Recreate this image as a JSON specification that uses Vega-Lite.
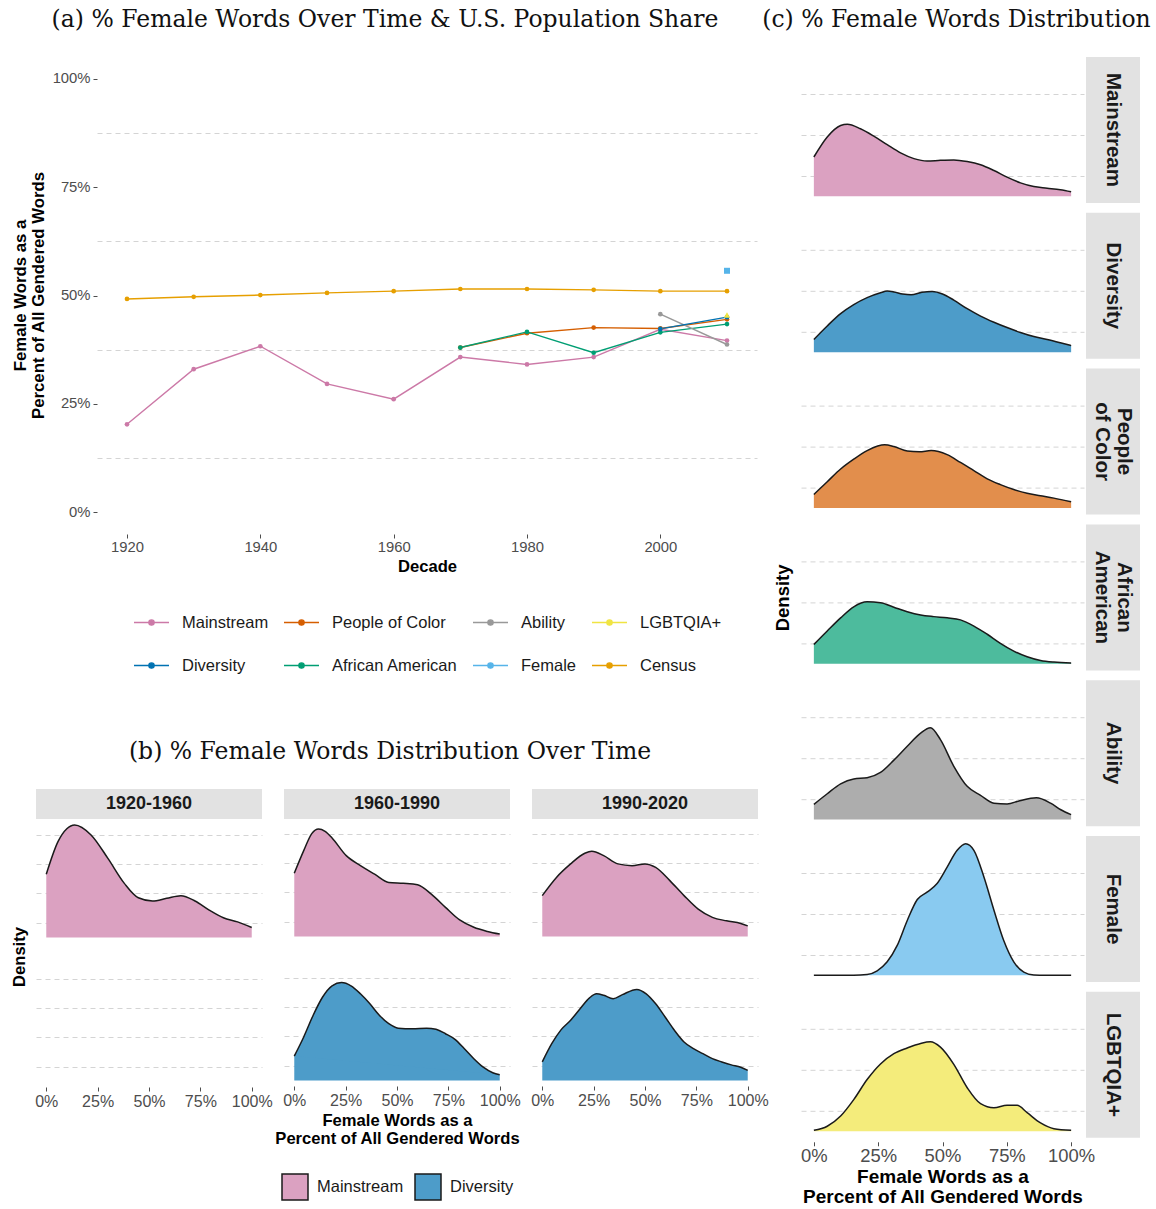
{
 "$schema": "https://vega.github.io/schema/vega-lite/v6.json",
 "background": "white",
 "padding": {"left": 12, "top": 7, "right": 2, "bottom": 2},
 "datasets": {
  "lines": [
   {"series":"Mainstream","decade":1920,"pct":0.203},{"series":"Mainstream","decade":1930,"pct":0.330},{"series":"Mainstream","decade":1940,"pct":0.383},{"series":"Mainstream","decade":1950,"pct":0.296},{"series":"Mainstream","decade":1960,"pct":0.261},{"series":"Mainstream","decade":1970,"pct":0.358},{"series":"Mainstream","decade":1980,"pct":0.341},{"series":"Mainstream","decade":1990,"pct":0.358},{"series":"Mainstream","decade":2000,"pct":0.422},{"series":"Mainstream","decade":2010,"pct":0.396},
   {"series":"People of Color","decade":1970,"pct":0.380},{"series":"People of Color","decade":1980,"pct":0.413},{"series":"People of Color","decade":1990,"pct":0.426},{"series":"People of Color","decade":2000,"pct":0.424},{"series":"People of Color","decade":2010,"pct":0.445},
   {"series":"African American","decade":1970,"pct":0.380},{"series":"African American","decade":1980,"pct":0.416},{"series":"African American","decade":1990,"pct":0.368},{"series":"African American","decade":2000,"pct":0.415},{"series":"African American","decade":2010,"pct":0.434},
   {"series":"Ability","decade":2000,"pct":0.457},{"series":"Ability","decade":2010,"pct":0.387},
   {"series":"Diversity","decade":2000,"pct":0.423},{"series":"Diversity","decade":2010,"pct":0.450},
   {"series":"LGBTQIA+","decade":2010,"pct":0.455},
   {"series":"Female","decade":2010,"pct":0.557},
   {"series":"Census","decade":1920,"pct":0.492},{"series":"Census","decade":1930,"pct":0.497},{"series":"Census","decade":1940,"pct":0.501},{"series":"Census","decade":1950,"pct":0.506},{"series":"Census","decade":1960,"pct":0.510},{"series":"Census","decade":1970,"pct":0.515},{"series":"Census","decade":1980,"pct":0.515},{"series":"Census","decade":1990,"pct":0.513},{"series":"Census","decade":2000,"pct":0.510},{"series":"Census","decade":2010,"pct":0.510}
  ],
  "bdens": [
   {"period":"1920-1960","group":"Mainstream","x":0,"density":2.15},{"period":"1920-1960","group":"Mainstream","x":0.057,"density":3.26},{"period":"1920-1960","group":"Mainstream","x":0.1,"density":3.7},{"period":"1920-1960","group":"Mainstream","x":0.138,"density":3.83},{"period":"1920-1960","group":"Mainstream","x":0.218,"density":3.49},{"period":"1920-1960","group":"Mainstream","x":0.30,"density":2.69},{"period":"1920-1960","group":"Mainstream","x":0.38,"density":1.84},{"period":"1920-1960","group":"Mainstream","x":0.448,"density":1.35},{"period":"1920-1960","group":"Mainstream","x":0.517,"density":1.24},{"period":"1920-1960","group":"Mainstream","x":0.586,"density":1.33},{"period":"1920-1960","group":"Mainstream","x":0.655,"density":1.42},{"period":"1920-1960","group":"Mainstream","x":0.724,"density":1.24},{"period":"1920-1960","group":"Mainstream","x":0.793,"density":0.93},{"period":"1920-1960","group":"Mainstream","x":0.862,"density":0.67},{"period":"1920-1960","group":"Mainstream","x":0.931,"density":0.53},{"period":"1920-1960","group":"Mainstream","x":1.0,"density":0.34},
   {"period":"1960-1990","group":"Mainstream","x":0,"density":2.15},{"period":"1960-1990","group":"Mainstream","x":0.046,"density":2.92},{"period":"1960-1990","group":"Mainstream","x":0.085,"density":3.5},{"period":"1960-1990","group":"Mainstream","x":0.118,"density":3.66},{"period":"1960-1990","group":"Mainstream","x":0.15,"density":3.58},{"period":"1960-1990","group":"Mainstream","x":0.184,"density":3.35},{"period":"1960-1990","group":"Mainstream","x":0.253,"density":2.75},{"period":"1960-1990","group":"Mainstream","x":0.322,"density":2.41},{"period":"1960-1990","group":"Mainstream","x":0.391,"density":2.12},{"period":"1960-1990","group":"Mainstream","x":0.46,"density":1.84},{"period":"1960-1990","group":"Mainstream","x":0.53,"density":1.81},{"period":"1960-1990","group":"Mainstream","x":0.6,"density":1.76},{"period":"1960-1990","group":"Mainstream","x":0.667,"density":1.44},{"period":"1960-1990","group":"Mainstream","x":0.736,"density":0.99},{"period":"1960-1990","group":"Mainstream","x":0.805,"density":0.56},{"period":"1960-1990","group":"Mainstream","x":0.874,"density":0.31},{"period":"1960-1990","group":"Mainstream","x":0.94,"density":0.17},{"period":"1960-1990","group":"Mainstream","x":1.0,"density":0.08},
   {"period":"1990-2020","group":"Mainstream","x":0,"density":1.39},{"period":"1990-2020","group":"Mainstream","x":0.069,"density":2.01},{"period":"1990-2020","group":"Mainstream","x":0.138,"density":2.47},{"period":"1990-2020","group":"Mainstream","x":0.207,"density":2.83},{"period":"1990-2020","group":"Mainstream","x":0.241,"density":2.90},{"period":"1990-2020","group":"Mainstream","x":0.299,"density":2.75},{"period":"1990-2020","group":"Mainstream","x":0.368,"density":2.47},{"period":"1990-2020","group":"Mainstream","x":0.437,"density":2.41},{"period":"1990-2020","group":"Mainstream","x":0.5,"density":2.47},{"period":"1990-2020","group":"Mainstream","x":0.552,"density":2.35},{"period":"1990-2020","group":"Mainstream","x":0.621,"density":1.90},{"period":"1990-2020","group":"Mainstream","x":0.69,"density":1.39},{"period":"1990-2020","group":"Mainstream","x":0.759,"density":0.93},{"period":"1990-2020","group":"Mainstream","x":0.828,"density":0.65},{"period":"1990-2020","group":"Mainstream","x":0.897,"density":0.53},{"period":"1990-2020","group":"Mainstream","x":0.966,"density":0.44},{"period":"1990-2020","group":"Mainstream","x":1.0,"density":0.36},
   {"period":"1960-1990","group":"Diversity","x":0,"density":0.83},{"period":"1960-1990","group":"Diversity","x":0.046,"density":1.48},{"period":"1960-1990","group":"Diversity","x":0.092,"density":2.22},{"period":"1960-1990","group":"Diversity","x":0.138,"density":2.84},{"period":"1960-1990","group":"Diversity","x":0.184,"density":3.22},{"period":"1960-1990","group":"Diversity","x":0.23,"density":3.33},{"period":"1960-1990","group":"Diversity","x":0.276,"density":3.22},{"period":"1960-1990","group":"Diversity","x":0.322,"density":2.95},{"period":"1960-1990","group":"Diversity","x":0.368,"density":2.61},{"period":"1960-1990","group":"Diversity","x":0.414,"density":2.22},{"period":"1960-1990","group":"Diversity","x":0.46,"density":1.93},{"period":"1960-1990","group":"Diversity","x":0.506,"density":1.78},{"period":"1960-1990","group":"Diversity","x":0.575,"density":1.76},{"period":"1960-1990","group":"Diversity","x":0.644,"density":1.78},{"period":"1960-1990","group":"Diversity","x":0.69,"density":1.74},{"period":"1960-1990","group":"Diversity","x":0.736,"density":1.59},{"period":"1960-1990","group":"Diversity","x":0.782,"density":1.40},{"period":"1960-1990","group":"Diversity","x":0.828,"density":1.08},{"period":"1960-1990","group":"Diversity","x":0.874,"density":0.74},{"period":"1960-1990","group":"Diversity","x":0.92,"density":0.45},{"period":"1960-1990","group":"Diversity","x":0.966,"density":0.26},{"period":"1960-1990","group":"Diversity","x":1.0,"density":0.19},
   {"period":"1990-2020","group":"Diversity","x":0,"density":0.63},{"period":"1990-2020","group":"Diversity","x":0.046,"density":1.25},{"period":"1990-2020","group":"Diversity","x":0.092,"density":1.73},{"period":"1990-2020","group":"Diversity","x":0.138,"density":2.05},{"period":"1990-2020","group":"Diversity","x":0.184,"density":2.44},{"period":"1990-2020","group":"Diversity","x":0.23,"density":2.81},{"period":"1990-2020","group":"Diversity","x":0.264,"density":2.95},{"period":"1990-2020","group":"Diversity","x":0.299,"density":2.90},{"period":"1990-2020","group":"Diversity","x":0.345,"density":2.78},{"period":"1990-2020","group":"Diversity","x":0.39,"density":2.92},{"period":"1990-2020","group":"Diversity","x":0.46,"density":3.10},{"period":"1990-2020","group":"Diversity","x":0.506,"density":2.95},{"period":"1990-2020","group":"Diversity","x":0.552,"density":2.61},{"period":"1990-2020","group":"Diversity","x":0.598,"density":2.16},{"period":"1990-2020","group":"Diversity","x":0.644,"density":1.70},{"period":"1990-2020","group":"Diversity","x":0.69,"density":1.31},{"period":"1990-2020","group":"Diversity","x":0.736,"density":1.08},{"period":"1990-2020","group":"Diversity","x":0.782,"density":0.91},{"period":"1990-2020","group":"Diversity","x":0.828,"density":0.74},{"period":"1990-2020","group":"Diversity","x":0.874,"density":0.63},{"period":"1990-2020","group":"Diversity","x":0.92,"density":0.53},{"period":"1990-2020","group":"Diversity","x":0.966,"density":0.45},{"period":"1990-2020","group":"Diversity","x":1.0,"density":0.34}
  ],
  "cdens": [
   {"group":"Mainstream","x":0,"density":0.96},{"group":"Mainstream","x":0.052,"density":1.45},{"group":"Mainstream","x":0.104,"density":1.73},{"group":"Mainstream","x":0.13,"density":1.76},{"group":"Mainstream","x":0.181,"density":1.65},{"group":"Mainstream","x":0.233,"density":1.47},{"group":"Mainstream","x":0.285,"density":1.26},{"group":"Mainstream","x":0.337,"density":1.06},{"group":"Mainstream","x":0.389,"density":0.92},{"group":"Mainstream","x":0.44,"density":0.86},{"group":"Mainstream","x":0.492,"density":0.88},{"group":"Mainstream","x":0.544,"density":0.89},{"group":"Mainstream","x":0.596,"density":0.85},{"group":"Mainstream","x":0.648,"density":0.77},{"group":"Mainstream","x":0.70,"density":0.63},{"group":"Mainstream","x":0.751,"density":0.47},{"group":"Mainstream","x":0.803,"density":0.33},{"group":"Mainstream","x":0.855,"density":0.24},{"group":"Mainstream","x":0.907,"density":0.20},{"group":"Mainstream","x":0.958,"density":0.16},{"group":"Mainstream","x":1.0,"density":0.11},
   {"group":"Diversity","x":0,"density":0.31},{"group":"Diversity","x":0.052,"density":0.64},{"group":"Diversity","x":0.104,"density":0.94},{"group":"Diversity","x":0.155,"density":1.16},{"group":"Diversity","x":0.207,"density":1.33},{"group":"Diversity","x":0.259,"density":1.45},{"group":"Diversity","x":0.285,"density":1.49},{"group":"Diversity","x":0.311,"density":1.47},{"group":"Diversity","x":0.345,"density":1.42},{"group":"Diversity","x":0.378,"density":1.40},{"group":"Diversity","x":0.42,"density":1.46},{"group":"Diversity","x":0.46,"density":1.48},{"group":"Diversity","x":0.50,"density":1.42},{"group":"Diversity","x":0.544,"density":1.27},{"group":"Diversity","x":0.596,"density":1.06},{"group":"Diversity","x":0.648,"density":0.88},{"group":"Diversity","x":0.70,"density":0.73},{"group":"Diversity","x":0.751,"density":0.60},{"group":"Diversity","x":0.803,"density":0.48},{"group":"Diversity","x":0.855,"density":0.38},{"group":"Diversity","x":0.907,"density":0.31},{"group":"Diversity","x":0.958,"density":0.23},{"group":"Diversity","x":1.0,"density":0.16},
   {"group":"People of Color","x":0,"density":0.33},{"group":"People of Color","x":0.052,"density":0.64},{"group":"People of Color","x":0.104,"density":0.95},{"group":"People of Color","x":0.155,"density":1.19},{"group":"People of Color","x":0.207,"density":1.40},{"group":"People of Color","x":0.248,"density":1.51},{"group":"People of Color","x":0.275,"density":1.54},{"group":"People of Color","x":0.311,"density":1.50},{"group":"People of Color","x":0.363,"density":1.39},{"group":"People of Color","x":0.41,"density":1.37},{"group":"People of Color","x":0.456,"density":1.40},{"group":"People of Color","x":0.518,"density":1.30},{"group":"People of Color","x":0.57,"density":1.11},{"group":"People of Color","x":0.622,"density":0.91},{"group":"People of Color","x":0.674,"density":0.71},{"group":"People of Color","x":0.725,"density":0.57},{"group":"People of Color","x":0.777,"density":0.45},{"group":"People of Color","x":0.829,"density":0.36},{"group":"People of Color","x":0.881,"density":0.30},{"group":"People of Color","x":0.933,"density":0.24},{"group":"People of Color","x":1.0,"density":0.15},
   {"group":"African American","x":0,"density":0.47},{"group":"African American","x":0.052,"density":0.80},{"group":"African American","x":0.104,"density":1.12},{"group":"African American","x":0.155,"density":1.39},{"group":"African American","x":0.207,"density":1.51},{"group":"African American","x":0.259,"density":1.49},{"group":"African American","x":0.311,"density":1.38},{"group":"African American","x":0.363,"density":1.27},{"group":"African American","x":0.415,"density":1.19},{"group":"African American","x":0.466,"density":1.15},{"group":"African American","x":0.518,"density":1.12},{"group":"African American","x":0.57,"density":1.07},{"group":"African American","x":0.622,"density":0.92},{"group":"African American","x":0.674,"density":0.72},{"group":"African American","x":0.725,"density":0.50},{"group":"African American","x":0.777,"density":0.31},{"group":"African American","x":0.829,"density":0.17},{"group":"African American","x":0.881,"density":0.08},{"group":"African American","x":0.933,"density":0.04},{"group":"African American","x":1.0,"density":0.02},
   {"group":"Ability","x":0,"density":0.37},{"group":"Ability","x":0.052,"density":0.63},{"group":"Ability","x":0.104,"density":0.87},{"group":"Ability","x":0.155,"density":0.99},{"group":"Ability","x":0.207,"density":1.02},{"group":"Ability","x":0.259,"density":1.15},{"group":"Ability","x":0.311,"density":1.45},{"group":"Ability","x":0.363,"density":1.79},{"group":"Ability","x":0.415,"density":2.11},{"group":"Ability","x":0.453,"density":2.24},{"group":"Ability","x":0.492,"density":1.95},{"group":"Ability","x":0.544,"density":1.30},{"group":"Ability","x":0.596,"density":0.81},{"group":"Ability","x":0.648,"density":0.59},{"group":"Ability","x":0.70,"density":0.40},{"group":"Ability","x":0.751,"density":0.38},{"group":"Ability","x":0.80,"density":0.46},{"group":"Ability","x":0.865,"density":0.53},{"group":"Ability","x":0.92,"density":0.40},{"group":"Ability","x":0.96,"density":0.24},{"group":"Ability","x":1.0,"density":0.12},
   {"group":"Female","x":0,"density":0},{"group":"Female","x":0.155,"density":0},{"group":"Female","x":0.207,"density":0.02},{"group":"Female","x":0.246,"density":0.11},{"group":"Female","x":0.285,"density":0.33},{"group":"Female","x":0.324,"density":0.73},{"group":"Female","x":0.363,"density":1.34},{"group":"Female","x":0.402,"density":1.85},{"group":"Female","x":0.44,"density":2.03},{"group":"Female","x":0.479,"density":2.24},{"group":"Female","x":0.518,"density":2.64},{"group":"Female","x":0.557,"density":3.05},{"group":"Female","x":0.59,"density":3.21},{"group":"Female","x":0.622,"density":3.05},{"group":"Female","x":0.661,"density":2.40},{"group":"Female","x":0.70,"density":1.59},{"group":"Female","x":0.738,"density":0.85},{"group":"Female","x":0.777,"density":0.33},{"group":"Female","x":0.816,"density":0.08},{"group":"Female","x":0.855,"density":0.01},{"group":"Female","x":0.9,"density":0},{"group":"Female","x":1.0,"density":0},
   {"group":"LGBTQIA+","x":0,"density":0.02},{"group":"LGBTQIA+","x":0.052,"density":0.12},{"group":"LGBTQIA+","x":0.104,"density":0.37},{"group":"LGBTQIA+","x":0.155,"density":0.77},{"group":"LGBTQIA+","x":0.207,"density":1.26},{"group":"LGBTQIA+","x":0.259,"density":1.64},{"group":"LGBTQIA+","x":0.311,"density":1.89},{"group":"LGBTQIA+","x":0.363,"density":2.03},{"group":"LGBTQIA+","x":0.415,"density":2.14},{"group":"LGBTQIA+","x":0.453,"density":2.18},{"group":"LGBTQIA+","x":0.492,"density":2.05},{"group":"LGBTQIA+","x":0.544,"density":1.63},{"group":"LGBTQIA+","x":0.596,"density":1.06},{"group":"LGBTQIA+","x":0.648,"density":0.67},{"group":"LGBTQIA+","x":0.70,"density":0.57},{"group":"LGBTQIA+","x":0.751,"density":0.63},{"group":"LGBTQIA+","x":0.79,"density":0.63},{"group":"LGBTQIA+","x":0.829,"density":0.45},{"group":"LGBTQIA+","x":0.881,"density":0.20},{"group":"LGBTQIA+","x":0.933,"density":0.06},{"group":"LGBTQIA+","x":1.0,"density":0.02}
  ]
 },
 "hconcat": [
  {
   "vconcat": [
    {
     "title": {"text": "(a) % Female Words Over Time & U.S. Population Share", "anchor": "middle", "offset": 26},
     "spacing": 4,
     "resolve": {"scale": {"color": "independent"}, "legend": {"color": "independent"}},
     "hconcat": [
      {"width": 34, "height": 477, "data": {"values": [{"label": "Female Words as a\nPercent of All Gendered Words"}]},
       "mark": {"type": "text", "angle": -90, "fontSize": 16.8, "fontWeight": "bold", "color": "#000000", "lineBreak": "\n", "lineHeight": 18, "dy": -9},
       "encoding": {"text": {"field": "label"}}},
      {
       "width": 660, "height": 477,
       "data": {"name": "lines"},
       "encoding": {
        "x": {"field": "decade", "type": "quantitative", "scale": {"domain": [1915.5, 2014.5], "nice": false, "zero": false},
              "axis": {"values": [1920, 1940, 1960, 1980, 2000], "format": "d", "title": "Decade", "labelFontSize": 14.8, "titleFontSize": 16.6, "tickSize": 4, "labelPadding": 1, "titlePadding": 5}},
        "y": {"field": "pct", "type": "quantitative", "scale": {"domain": [-0.05, 1.05], "nice": false, "zero": false},
              "axis": {"values": [0, 0.125, 0.25, 0.375, 0.5, 0.625, 0.75, 0.875, 1],
                       "labelExpr": "round(datum.value*8)%2==1 ? '' : format(datum.value, '.0%')",
                       "grid": true, "gridDash": [5, 4], "gridColor": "#d4d4d4",
                       "gridOpacity": {"condition": {"test": "round(datum.value*8)%2==1", "value": 1}, "value": 0},
                       "tickOpacity": {"condition": {"test": "round(datum.value*8)%2==1", "value": 0}, "value": 1},
                       "title": null, "labelFontSize": 14.8, "tickSize": 4, "labelPadding": 3}},
        "color": {"field": "series", "type": "nominal",
                  "scale": {"domain": ["Mainstream", "People of Color", "Ability", "LGBTQIA+", "Diversity", "African American", "Female", "Census"],
                            "range": ["#CC79A7", "#D55E00", "#999999", "#F0E442", "#0072B2", "#009E73", "#56B4E9", "#E69F00"]},
                  "legend": {"title": null, "orient": "bottom", "direction": "horizontal", "columns": 4,
                             "symbolType": "M-1,0L1,0M0.15,0A0.15,0.15,0,1,1,-0.15,0A0.15,0.15,0,1,1,0.15,0Z",
                             "symbolSize": 1225, "symbolStrokeWidth": 1.4, "labelFontSize": 16.5, "labelColor": "#1a1a1a",
                             "columnPadding": 12, "rowPadding": 16, "labelOffset": 12, "offset": 28,
                             "encoding": {"symbols": {"update": {"shape": {"signal": "datum.value == 'LGBTQIA+' ? 'M-1,0L1,0M0,-0.22L0.21,0.14L-0.21,0.14Z' : datum.value == 'Female' ? 'M-1,0L1,0M-0.15,-0.15L0.15,-0.15L0.15,0.15L-0.15,0.15Z' : 'M-1,0L1,0M0.15,0A0.15,0.15,0,1,1,-0.15,0A0.15,0.15,0,1,1,0.15,0Z'"}}}}}}
       },
       "layer": [
        {"mark": {"type": "line", "strokeWidth": 1.4}},
        {"transform": [{"filter": "datum.series != 'LGBTQIA+' && datum.series != 'Female'"}], "mark": {"type": "circle", "size": 22, "opacity": 1}},
        {"transform": [{"filter": "datum.series == 'LGBTQIA+'"}], "mark": {"type": "point", "shape": "triangle-up", "filled": true, "size": 40, "opacity": 1}},
        {"transform": [{"filter": "datum.series == 'Female'"}], "mark": {"type": "square", "size": 36, "opacity": 1}}
       ]
      }
     ]
    },
    {
     "title": {"text": "(b) % Female Words Distribution Over Time", "anchor": "middle", "offset": 26},
     "spacing": 1,
     "resolve": {"scale": {"fill": "independent"}, "legend": {"fill": "independent"}},
     "hconcat": [
      {
       "spacing": 5,
       "hconcat": [
        {"width": 14, "height": 336, "data": {"values": [{"label": "Density"}]},
         "mark": {"type": "text", "angle": -90, "fontSize": 16.6, "fontWeight": "bold", "color": "#000000"},
         "encoding": {"text": {"field": "label"}}},
        {
         "spacing": 2,
         "vconcat": [
          {"width": 226, "height": 30, "view": {"fill": "#E2E2E2", "stroke": null}, "data": {"values": [{"label": "1920-1960"}]},
           "mark": {"type": "text", "fontSize": 18, "fontWeight": "bold", "color": "#1a1a1a"}, "encoding": {"text": {"field": "label"}}},
          {"spacing": 23, "vconcat": [
            {"width": 226, "height": 121, "data": {"name": "bdens"}, "transform": [{"filter": "datum.period == '1920-1960' && datum.group == 'Mainstream'"}],
             "mark": {"type": "area", "interpolate": "monotone", "color": "#DBA1C1", "opacity": 1, "line": {"color": "#1a1a1a", "strokeWidth": 1.5}},
             "encoding": {"x": {"field": "x", "type": "quantitative", "scale": {"domain": [-0.05, 1.05], "nice": false, "zero": false}, "axis": null},
                          "y": {"field": "density", "type": "quantitative", "scale": {"domain": [-0.19, 3.93], "nice": false, "zero": false}, "axis": {"values": [0.5, 1.5, 2.5, 3.5], "labels": false, "ticks": false, "domain": false, "grid": true, "gridDash": [5, 4], "gridColor": "#d4d4d4", "title": null}}}},
            {"width": 226, "height": 121, "data": {"name": "bdens"}, "transform": [{"filter": "datum.period == '1920-1960' && datum.group == 'Diversity'"}],
             "mark": {"type": "area", "interpolate": "monotone", "color": "#4D9CC9", "opacity": 1, "line": {"color": "#1a1a1a", "strokeWidth": 1.5}},
             "encoding": {"x": {"field": "x", "type": "quantitative", "scale": {"domain": [-0.05, 1.05], "nice": false, "zero": false}, "axis": {"values": [0, 0.25, 0.5, 0.75, 1], "format": ".0%", "labelFontSize": 16, "tickSize": 4, "labelPadding": 2, "title": null, "labelOverlap": false}},
                          "y": {"field": "density", "type": "quantitative", "scale": {"domain": [-0.19, 3.93], "nice": false, "zero": false}, "axis": {"values": [0.5, 1.5, 2.5, 3.5], "labels": false, "ticks": false, "domain": false, "grid": true, "gridDash": [5, 4], "gridColor": "#d4d4d4", "title": null}}}}
          ]}
         ]
        }
       ]
      },
      {
       "spacing": 9,
       "resolve": {"scale": {"fill": "independent"}, "legend": {"fill": "independent"}},
       "hconcat": [
        {
         "spacing": 2,
         "resolve": {"scale": {"fill": "independent"}, "legend": {"fill": "independent"}},
         "vconcat": [
          {"width": 226, "height": 30, "view": {"fill": "#E2E2E2", "stroke": null}, "data": {"values": [{"label": "1960-1990"}]},
           "mark": {"type": "text", "fontSize": 18, "fontWeight": "bold", "color": "#1a1a1a"}, "encoding": {"text": {"field": "label"}}},
          {"spacing": 23, "resolve": {"scale": {"fill": "independent"}, "legend": {"fill": "independent"}}, "vconcat": [
            {"width": 226, "height": 121, "data": {"name": "bdens"}, "transform": [{"filter": "datum.period == '1960-1990' && datum.group == 'Mainstream'"}],
             "mark": {"type": "area", "interpolate": "monotone", "color": "#DBA1C1", "opacity": 1, "line": {"color": "#1a1a1a", "strokeWidth": 1.5}},
             "encoding": {"x": {"field": "x", "type": "quantitative", "scale": {"domain": [-0.05, 1.05], "nice": false, "zero": false}, "axis": null},
                          "y": {"field": "density", "type": "quantitative", "scale": {"domain": [-0.19, 3.93], "nice": false, "zero": false}, "axis": {"values": [0.5, 1.5, 2.5, 3.5], "labels": false, "ticks": false, "domain": false, "grid": true, "gridDash": [5, 4], "gridColor": "#d4d4d4", "title": null}}}},
            {"width": 226, "height": 121, "data": {"name": "bdens"}, "transform": [{"filter": "datum.period == '1960-1990' && datum.group == 'Diversity'"}],
             "mark": {"type": "area", "interpolate": "monotone", "opacity": 1, "line": {"color": "#1a1a1a", "strokeWidth": 1.5}},
             "encoding": {"x": {"field": "x", "type": "quantitative", "scale": {"domain": [-0.05, 1.05], "nice": false, "zero": false}, "axis": {"values": [0, 0.25, 0.5, 0.75, 1], "format": ".0%", "labelFontSize": 16, "tickSize": 4, "labelPadding": 2, "title": ["Female Words as a", "Percent of All Gendered Words"], "titleFontSize": 16.6, "titleLineHeight": 18, "titlePadding": 4, "labelOverlap": false}},
                          "y": {"field": "density", "type": "quantitative", "scale": {"domain": [-0.19, 3.93], "nice": false, "zero": false}, "axis": {"values": [0.5, 1.5, 2.5, 3.5], "labels": false, "ticks": false, "domain": false, "grid": true, "gridDash": [5, 4], "gridColor": "#d4d4d4", "title": null}},
                          "fill": {"field": "group", "type": "nominal", "scale": {"domain": ["Mainstream", "Diversity"], "range": ["#DBA1C1", "#4D9CC9"]},
                                   "legend": {"title": null, "orient": "bottom", "direction": "horizontal", "symbolType": "square", "symbolSize": 676, "symbolStrokeColor": "#1a1a1a", "symbolStrokeWidth": 1.5, "symbolOpacity": 1, "labelFontSize": 16.5, "labelColor": "#1a1a1a", "labelOffset": 8, "columnPadding": 8, "offset": 26}}}}
          ]}
         ]
        },
        {
         "spacing": 2,
         "vconcat": [
          {"width": 226, "height": 30, "view": {"fill": "#E2E2E2", "stroke": null}, "data": {"values": [{"label": "1990-2020"}]},
           "mark": {"type": "text", "fontSize": 18, "fontWeight": "bold", "color": "#1a1a1a"}, "encoding": {"text": {"field": "label"}}},
          {"spacing": 23, "vconcat": [
            {"width": 226, "height": 121, "data": {"name": "bdens"}, "transform": [{"filter": "datum.period == '1990-2020' && datum.group == 'Mainstream'"}],
             "mark": {"type": "area", "interpolate": "monotone", "color": "#DBA1C1", "opacity": 1, "line": {"color": "#1a1a1a", "strokeWidth": 1.5}},
             "encoding": {"x": {"field": "x", "type": "quantitative", "scale": {"domain": [-0.05, 1.05], "nice": false, "zero": false}, "axis": null},
                          "y": {"field": "density", "type": "quantitative", "scale": {"domain": [-0.19, 3.93], "nice": false, "zero": false}, "axis": {"values": [0.5, 1.5, 2.5, 3.5], "labels": false, "ticks": false, "domain": false, "grid": true, "gridDash": [5, 4], "gridColor": "#d4d4d4", "title": null}}}},
            {"width": 226, "height": 121, "data": {"name": "bdens"}, "transform": [{"filter": "datum.period == '1990-2020' && datum.group == 'Diversity'"}],
             "mark": {"type": "area", "interpolate": "monotone", "color": "#4D9CC9", "opacity": 1, "line": {"color": "#1a1a1a", "strokeWidth": 1.5}},
             "encoding": {"x": {"field": "x", "type": "quantitative", "scale": {"domain": [-0.05, 1.05], "nice": false, "zero": false}, "axis": {"values": [0, 0.25, 0.5, 0.75, 1], "format": ".0%", "labelFontSize": 16, "tickSize": 4, "labelPadding": 2, "title": null, "labelOverlap": false}},
                          "y": {"field": "density", "type": "quantitative", "scale": {"domain": [-0.19, 3.93], "nice": false, "zero": false}, "axis": {"values": [0.5, 1.5, 2.5, 3.5], "labels": false, "ticks": false, "domain": false, "grid": true, "gridDash": [5, 4], "gridColor": "#d4d4d4", "title": null}}}}
          ]}
         ]
        }
       ]
      }
     ]
    }
   ],
   "spacing": 65,
   "resolve": {"scale": {"fill": "independent", "color": "independent"}, "legend": {"fill": "independent", "color": "independent"}}
  },
  {
   "title": {"text": "(c) % Female Words Distribution", "anchor": "middle", "offset": 26},
   "spacing": 9.8,
   "vconcat": [
    {"spacing": 2, "hconcat": [
      {"width": 283, "height": 146, "data": {"name": "cdens"}, "transform": [{"filter": "datum.group == 'Mainstream'"}],
       "mark": {"type": "area", "interpolate": "monotone", "color": "#DBA1C1", "opacity": 1, "line": {"color": "#1a1a1a", "strokeWidth": 1.5}},
       "encoding": {"x": {"field": "x", "type": "quantitative", "scale": {"domain": [-0.05, 1.05], "nice": false, "zero": false}, "axis": null},
                    "y": {"field": "density", "type": "quantitative", "scale": {"domain": [-0.162, 3.40], "nice": false, "zero": false}, "axis": {"values": [0.5, 1.5, 2.5], "labels": false, "ticks": false, "domain": false, "grid": true, "gridDash": [5, 4], "gridColor": "#d4d4d4", "title": "Density", "titleFontSize": 18.5, "titlePadding": 9, "titleOpacity": 0}}}},
      {"width": 54, "height": 146, "view": {"fill": "#E2E2E2", "stroke": null}, "data": {"values": [{"label": "Mainstream"}]},
       "mark": {"type": "text", "fontSize": 20.5, "fontWeight": "bold", "color": "#1a1a1a", "angle": 90}, "encoding": {"text": {"field": "label"}}}
    ]},
    {"spacing": 2, "hconcat": [
      {"width": 283, "height": 146, "data": {"name": "cdens"}, "transform": [{"filter": "datum.group == 'Diversity'"}],
       "mark": {"type": "area", "interpolate": "monotone", "color": "#4D9CC9", "opacity": 1, "line": {"color": "#1a1a1a", "strokeWidth": 1.5}},
       "encoding": {"x": {"field": "x", "type": "quantitative", "scale": {"domain": [-0.05, 1.05], "nice": false, "zero": false}, "axis": null},
                    "y": {"field": "density", "type": "quantitative", "scale": {"domain": [-0.162, 3.40], "nice": false, "zero": false}, "axis": {"values": [0.5, 1.5, 2.5], "labels": false, "ticks": false, "domain": false, "grid": true, "gridDash": [5, 4], "gridColor": "#d4d4d4", "title": "Density", "titleFontSize": 18.5, "titlePadding": 9, "titleOpacity": 0}}}},
      {"width": 54, "height": 146, "view": {"fill": "#E2E2E2", "stroke": null}, "data": {"values": [{"label": "Diversity"}]},
       "mark": {"type": "text", "fontSize": 20.5, "fontWeight": "bold", "color": "#1a1a1a", "angle": 90}, "encoding": {"text": {"field": "label"}}}
    ]},
    {"spacing": 2, "hconcat": [
      {"width": 283, "height": 146, "data": {"name": "cdens"}, "transform": [{"filter": "datum.group == 'People of Color'"}],
       "mark": {"type": "area", "interpolate": "monotone", "color": "#E28E4C", "opacity": 1, "line": {"color": "#1a1a1a", "strokeWidth": 1.5}},
       "encoding": {"x": {"field": "x", "type": "quantitative", "scale": {"domain": [-0.05, 1.05], "nice": false, "zero": false}, "axis": null},
                    "y": {"field": "density", "type": "quantitative", "scale": {"domain": [-0.162, 3.40], "nice": false, "zero": false}, "axis": {"values": [0.5, 1.5, 2.5], "labels": false, "ticks": false, "domain": false, "grid": true, "gridDash": [5, 4], "gridColor": "#d4d4d4", "title": "Density", "titleFontSize": 18.5, "titlePadding": 9, "titleOpacity": 0}}}},
      {"width": 54, "height": 146, "view": {"fill": "#E2E2E2", "stroke": null}, "data": {"values": [{"label": "People\nof Color"}]},
       "mark": {"type": "text", "fontSize": 20.5, "fontWeight": "bold", "color": "#1a1a1a", "angle": 90, "lineBreak": "\n", "lineHeight": 22, "dy": -11}, "encoding": {"text": {"field": "label"}}}
    ]},
    {"spacing": 2, "hconcat": [
      {"width": 283, "height": 146, "data": {"name": "cdens"}, "transform": [{"filter": "datum.group == 'African American'"}],
       "mark": {"type": "area", "interpolate": "monotone", "color": "#4DBB9D", "opacity": 1, "line": {"color": "#1a1a1a", "strokeWidth": 1.5}},
       "encoding": {"x": {"field": "x", "type": "quantitative", "scale": {"domain": [-0.05, 1.05], "nice": false, "zero": false}, "axis": null},
                    "y": {"field": "density", "type": "quantitative", "scale": {"domain": [-0.162, 3.40], "nice": false, "zero": false}, "axis": {"values": [0.5, 1.5, 2.5], "labels": false, "ticks": false, "domain": false, "grid": true, "gridDash": [5, 4], "gridColor": "#d4d4d4", "title": "Density", "titleFontSize": 18.5, "titlePadding": 9, "titleOpacity": 1}}}},
      {"width": 54, "height": 146, "view": {"fill": "#E2E2E2", "stroke": null}, "data": {"values": [{"label": "African\nAmerican"}]},
       "mark": {"type": "text", "fontSize": 20.5, "fontWeight": "bold", "color": "#1a1a1a", "angle": 90, "lineBreak": "\n", "lineHeight": 22, "dy": -11}, "encoding": {"text": {"field": "label"}}}
    ]},
    {"spacing": 2, "hconcat": [
      {"width": 283, "height": 146, "data": {"name": "cdens"}, "transform": [{"filter": "datum.group == 'Ability'"}],
       "mark": {"type": "area", "interpolate": "monotone", "color": "#ADADAD", "opacity": 1, "line": {"color": "#1a1a1a", "strokeWidth": 1.5}},
       "encoding": {"x": {"field": "x", "type": "quantitative", "scale": {"domain": [-0.05, 1.05], "nice": false, "zero": false}, "axis": null},
                    "y": {"field": "density", "type": "quantitative", "scale": {"domain": [-0.162, 3.40], "nice": false, "zero": false}, "axis": {"values": [0.5, 1.5, 2.5], "labels": false, "ticks": false, "domain": false, "grid": true, "gridDash": [5, 4], "gridColor": "#d4d4d4", "title": "Density", "titleFontSize": 18.5, "titlePadding": 9, "titleOpacity": 0}}}},
      {"width": 54, "height": 146, "view": {"fill": "#E2E2E2", "stroke": null}, "data": {"values": [{"label": "Ability"}]},
       "mark": {"type": "text", "fontSize": 20.5, "fontWeight": "bold", "color": "#1a1a1a", "angle": 90}, "encoding": {"text": {"field": "label"}}}
    ]},
    {"spacing": 2, "hconcat": [
      {"width": 283, "height": 146, "data": {"name": "cdens"}, "transform": [{"filter": "datum.group == 'Female'"}],
       "mark": {"type": "area", "interpolate": "monotone", "color": "#89CAF0", "opacity": 1, "line": {"color": "#1a1a1a", "strokeWidth": 1.5}},
       "encoding": {"x": {"field": "x", "type": "quantitative", "scale": {"domain": [-0.05, 1.05], "nice": false, "zero": false}, "axis": null},
                    "y": {"field": "density", "type": "quantitative", "scale": {"domain": [-0.162, 3.40], "nice": false, "zero": false}, "axis": {"values": [0.5, 1.5, 2.5], "labels": false, "ticks": false, "domain": false, "grid": true, "gridDash": [5, 4], "gridColor": "#d4d4d4", "title": "Density", "titleFontSize": 18.5, "titlePadding": 9, "titleOpacity": 0}}}},
      {"width": 54, "height": 146, "view": {"fill": "#E2E2E2", "stroke": null}, "data": {"values": [{"label": "Female"}]},
       "mark": {"type": "text", "fontSize": 20.5, "fontWeight": "bold", "color": "#1a1a1a", "angle": 90}, "encoding": {"text": {"field": "label"}}}
    ]},
    {"spacing": 0, "vconcat": [
      {"spacing": 2, "hconcat": [
        {"width": 283, "height": 146, "data": {"name": "cdens"}, "transform": [{"filter": "datum.group == 'LGBTQIA+'"}],
         "mark": {"type": "area", "interpolate": "monotone", "color": "#F4EC7B", "opacity": 1, "line": {"color": "#1a1a1a", "strokeWidth": 1.5}},
         "encoding": {"x": {"field": "x", "type": "quantitative", "scale": {"domain": [-0.05, 1.05], "nice": false, "zero": false}, "axis": null},
                      "y": {"field": "density", "type": "quantitative", "scale": {"domain": [-0.162, 3.40], "nice": false, "zero": false}, "axis": {"values": [0.5, 1.5, 2.5], "labels": false, "ticks": false, "domain": false, "grid": true, "gridDash": [5, 4], "gridColor": "#d4d4d4", "title": "Density", "titleFontSize": 18.5, "titlePadding": 9, "titleOpacity": 0}}}},
        {"width": 54, "height": 146, "view": {"fill": "#E2E2E2", "stroke": null}, "data": {"values": [{"label": "LGBTQIA+"}]},
         "mark": {"type": "text", "fontSize": 20.5, "fontWeight": "bold", "color": "#1a1a1a", "angle": 90}, "encoding": {"text": {"field": "label"}}}
      ]},
      {"width": 283, "height": 1, "data": {"name": "cdens"}, "transform": [{"filter": "datum.group == 'LGBTQIA+'"}],
       "mark": {"type": "point", "opacity": 0},
       "encoding": {"x": {"field": "x", "type": "quantitative", "scale": {"domain": [-0.05, 1.05], "nice": false, "zero": false}, "axis": {"values": [0, 0.25, 0.5, 0.75, 1], "format": ".0%", "labelFontSize": 18.4, "tickSize": 4, "labelPadding": 1, "title": ["Female Words as a", "Percent of All Gendered Words"], "titleFontSize": 19, "titleLineHeight": 20, "titlePadding": 2, "labelOverlap": false}}}}
    ]}
   ]
  }
 ],
 "spacing": -7,
 "resolve": {"scale": {"fill": "independent", "color": "independent"}, "legend": {"fill": "independent", "color": "independent"}},
 "config": {
  "view": {"stroke": null},
  "font": "Liberation Sans",
  "text": {"font": "Liberation Sans"},
  "axis": {"labelFont": "Liberation Sans", "titleFont": "Liberation Sans", "labelColor": "#4d4d4d", "tickColor": "#4d4d4d", "domain": false, "grid": false, "titleColor": "#000000", "titleFontWeight": "bold"},
  "title": {"font": "DejaVu Serif", "fontWeight": "normal", "fontSize": 23.5, "color": "#111111"},
  "legend": {"labelFont": "Liberation Sans", "layout": {"bottom": {"anchor": "middle"}}}
 }
}
